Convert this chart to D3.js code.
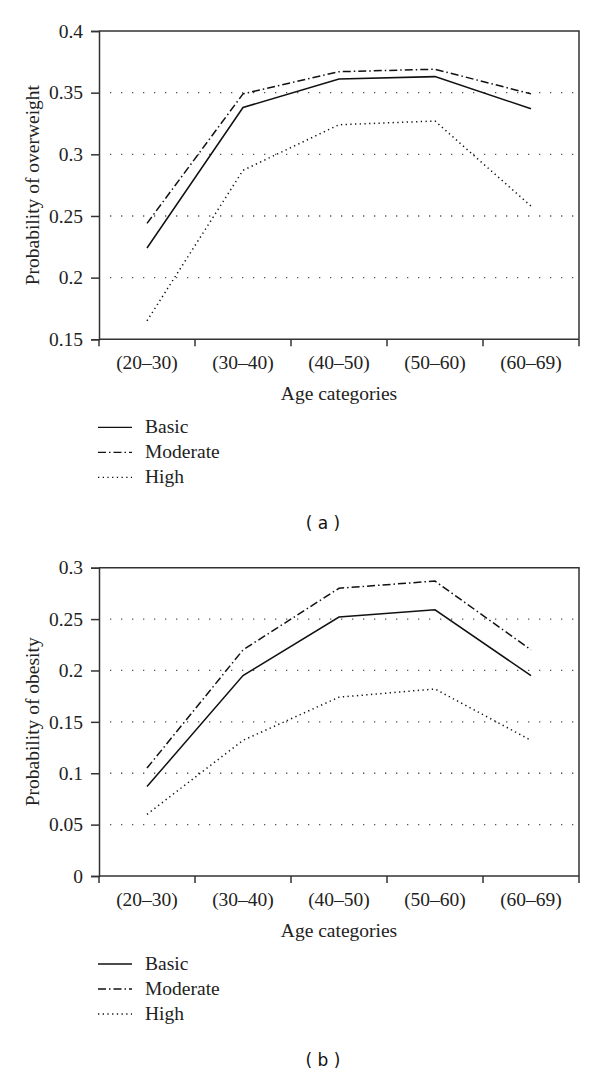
<!DOCTYPE html>
<html><head><meta charset="utf-8">
<script src="https://cdn.jsdelivr.net/npm/d3@7"></script>
<style>body{margin:0;background:#fff}svg{display:block}</style>
</head><body>
<svg id="c" width="600" height="1076"></svg>
<script>
const categories = ["(20–30)","(30–40)","(40–50)","(50–60)","(60–69)"];
const seriesNames = ["Basic","Moderate","High"];
// Panel (a): probability of overweight
const overweightBasic    = [0.224,0.338,0.361,0.363,0.337];
const overweightModerate = [0.244,0.349,0.367,0.369,0.349];
const overweightHigh     = [0.165,0.287,0.324,0.327,0.258];
const overweightTicks    = [0.15,0.2,0.25,0.3,0.35,0.4];
// Panel (b): probability of obesity
const obesityBasic    = [0.087,0.195,0.252,0.259,0.195];
const obesityModerate = [0.105,0.220,0.280,0.287,0.220];
const obesityHigh     = [0.060,0.132,0.174,0.182,0.132];
const obesityTicks    = [0,0.05,0.1,0.15,0.2,0.25,0.3];

const dashes = {Basic:null, Moderate:"8,3,1.5,3", High:"1.3,3.4"};
const serif = "'Liberation Serif','Times New Roman',serif";
const svg = d3.select("#c");

function panel(top, yLabel, ticks, series, tag){
  const x0=99, x1=579, yTop=top, yBot=top+308.3;
  const g = svg.append("g");
  const x = d3.scaleBand().domain(categories).range([x0,x1]);
  const y = d3.scaleLinear().domain([ticks[0], ticks[ticks.length-1]]).range([yBot,yTop]);
  // grid
  g.selectAll("line.grid").data(ticks.slice(1,-1)).join("line")
    .attr("x1",x0+11).attr("x2",x1-3)
    .attr("y1",d=>y(d)).attr("y2",d=>y(d))
    .attr("stroke","#555").attr("stroke-width",1.3).attr("stroke-dasharray","1.3,9.7");
  // frame top/right
  g.append("path").attr("d",`M${x0},${yTop}H${x1}V${yBot}`)
    .attr("fill","none").attr("stroke","#333").attr("stroke-width",1.5);
  // axes
  const ya = g.append("g").attr("transform",`translate(${x0},0)`)
    .call(d3.axisLeft(y).tickValues(ticks).tickSize(8).tickPadding(8).tickFormat(d=>String(+d.toFixed(2))));
  const xa = g.append("g").attr("transform",`translate(0,${yBot})`)
    .call(d3.axisBottom(x).tickSize(0).tickPadding(16));
  // outer ticks at band edges
  const edges = categories.map(c=>x(c)).concat([x1]);
  g.selectAll("line.xt").data(edges).join("line")
    .attr("x1",d=>d).attr("x2",d=>d).attr("y1",yBot).attr("y2",yBot+7)
    .attr("stroke","#333").attr("stroke-width",1.5);
  [ya,xa].forEach(a=>{
    a.select(".domain").attr("stroke","#333").attr("stroke-width",1.5);
    a.selectAll(".tick line").attr("stroke","#333").attr("stroke-width",1.5);
    a.selectAll("text").attr("font-family",serif).attr("font-size",19.5).attr("fill","#222");
  });
  xa.select(".domain").attr("d",`M${x0},0H${x1}`);
  // lines
  const line = d3.line().x((d,i)=>x(categories[i])+x.bandwidth()/2).y(d=>y(d));
  series.forEach((vals,k)=>{
    g.append("path").datum(vals).attr("d",line).attr("fill","none")
      .attr("stroke","#111").attr("stroke-width",1.5)
      .attr("stroke-dasharray",dashes[seriesNames[k]]);
  });
  // y label
  g.append("text").attr("transform",`translate(39,${(yTop+yBot)/2}) rotate(-90)`)
    .attr("text-anchor","middle").attr("font-family",serif).attr("font-size",19.5).attr("fill","#222").text(yLabel);
  // x label
  g.append("text").attr("x",(x0+x1)/2).attr("y",yBot+61).attr("text-anchor","middle")
    .attr("font-family",serif).attr("font-size",19.5).attr("fill","#222").text("Age categories");
  // legend
  const lg = g.append("g");
  seriesNames.forEach((s,k)=>{
    const ly = yBot+88+k*25;
    lg.append("line").attr("x1",98).attr("x2",132).attr("y1",ly).attr("y2",ly)
      .attr("stroke","#111").attr("stroke-width",1.3).attr("stroke-dasharray",dashes[s]);
    lg.append("text").attr("x",145).attr("y",ly+6).attr("font-family",serif).attr("font-size",19.5)
      .attr("fill","#222").text(s);
  });
  g.append("text").attr("x",323).attr("y",yBot+190).attr("text-anchor","middle")
    .attr("font-family","'DejaVu Sans',Verdana,sans-serif").attr("font-size",17).attr("fill","#111")
    .text(`( ${tag} )`);
}

panel(31,"Probability of overweight",overweightTicks,[overweightBasic,overweightModerate,overweightHigh],"a");
panel(567.7,"Probability of obesity",obesityTicks,[obesityBasic,obesityModerate,obesityHigh],"b");
</script>
</body></html>
